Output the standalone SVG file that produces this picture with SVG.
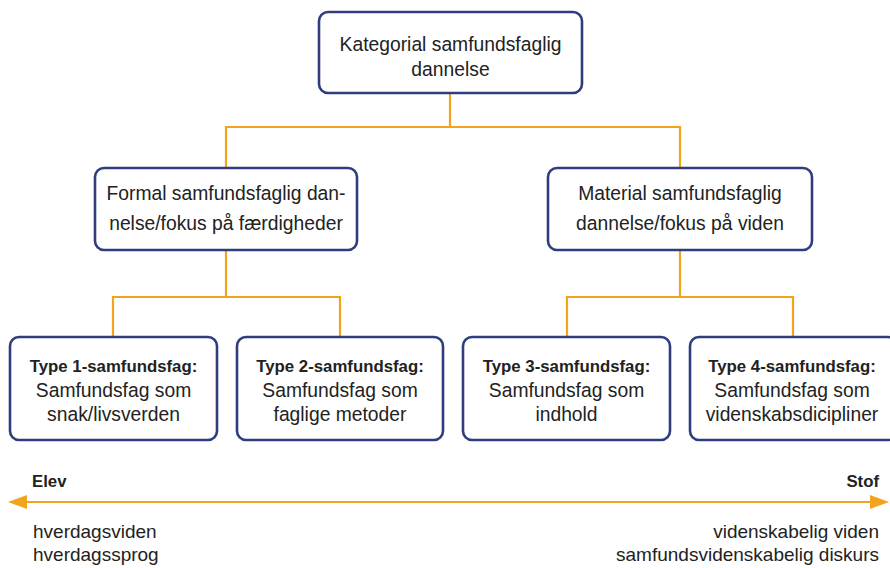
<svg xmlns="http://www.w3.org/2000/svg" width="890" height="568" viewBox="0 0 890 568">
<style>
.box{fill:#fff;stroke:#2f3c7e;stroke-width:2.6}
.t{font-family:"Liberation Sans",Arial,sans-serif;font-size:19.3px;fill:#222;text-anchor:middle}
.b{font-weight:bold;font-size:16.8px}
.c{fill:none;stroke:#f2a41e;stroke-width:2.2}
.l{font-family:"Liberation Sans",Arial,sans-serif;font-size:19px;fill:#222}
</style>
<rect width="890" height="568" fill="#fff"/>
<g id="connectors">
<path class="c" d="M450 93V127M226 168V127H680V168"/>
<path class="c" d="M226 250V297M113 337V297H340V337"/>
<path class="c" d="M680 250V297M567 337V297H793V337"/>
<path class="c" d="M24 502H872"/>
<polygon points="8,502 27,495 27,509" fill="#f2a41e"/>
<polygon points="889,502 870,495 870,509" fill="#f2a41e"/>
</g>
<g id="n0"><rect class="box" x="319" y="12" width="263" height="81" rx="9"/>
<text class="t" x="450.5" y="51">Kategorial samfundsfaglig</text><text class="t" x="450.5" y="76">dannelse</text></g>
<g id="n1"><rect class="box" x="95" y="168" width="262" height="82" rx="9"/>
<text class="t" x="226" y="200">Formal samfundsfaglig dan-</text><text class="t" x="226" y="230">nelse/fokus på færdigheder</text></g>
<g id="n2"><rect class="box" x="548" y="168" width="264" height="82" rx="9"/>
<text class="t" x="680" y="200">Material samfundsfaglig</text><text class="t" x="680" y="230">dannelse/fokus på viden</text></g>
<g id="n3"><rect class="box" x="10" y="337" width="207" height="103" rx="9"/>
<text class="t b" x="113.5" y="372">Type 1-samfundsfag:</text><text class="t" x="113.5" y="397">Samfundsfag som</text><text class="t" x="113.5" y="421">snak/livsverden</text></g>
<g id="n4"><rect class="box" x="237" y="337" width="206" height="103" rx="9"/>
<text class="t b" x="340" y="372">Type 2-samfundsfag:</text><text class="t" x="340" y="397">Samfundsfag som</text><text class="t" x="340" y="421">faglige metoder</text></g>
<g id="n5"><rect class="box" x="463" y="337" width="207" height="103" rx="9"/>
<text class="t b" x="566.5" y="372">Type 3-samfundsfag:</text><text class="t" x="566.5" y="397">Samfundsfag som</text><text class="t" x="566.5" y="421">indhold</text></g>
<g id="n6"><rect class="box" x="690" y="337" width="207" height="103" rx="9"/>
<text class="t b" x="792" y="372">Type 4-samfundsfag:</text><text class="t" x="792" y="397">Samfundsfag som</text><text class="t" x="792" y="421">videnskabsdicipliner</text></g>
<g id="labels">
<text class="l" x="32" y="487" style="font-weight:bold;font-size:16.8px">Elev</text>
<text class="l" x="879" y="487" style="font-weight:bold;font-size:16.8px;text-anchor:end">Stof</text>
<text class="l" x="33" y="538">hverdagsviden</text>
<text class="l" x="33" y="561">hverdagssprog</text>
<text class="l" x="879" y="538" style="text-anchor:end">videnskabelig viden</text>
<text class="l" x="879" y="561" style="text-anchor:end">samfundsvidenskabelig diskurs</text>
</g>
</svg>
